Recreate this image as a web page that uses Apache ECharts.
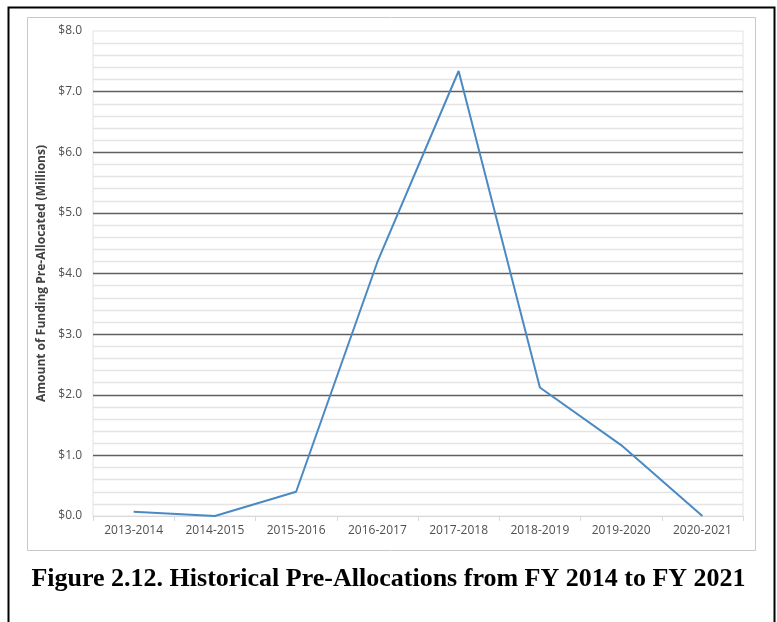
<!DOCTYPE html>
<html lang="en">
<head>
    <meta charset="UTF-8">
    <title>Historical Pre-Allocations</title>
    <script src="https://cdn.jsdelivr.net/npm/echarts@6/dist/echarts.min.js"></script>
    <style>
        body { margin: 0; background: #fff; }
    </style>
</head>
<body>
    <div id="main" style="width: 777px;height:622px;"></div>

    <script type="text/javascript">
        // data
        const years = ['2013-2014', '2014-2015', '2015-2016', '2016-2017', '2017-2018', '2018-2019', '2019-2020', '2020-2021'];
        const preAllocated = [0.07, 0.0, 0.40, 4.19, 7.34, 2.12, 1.17, 0.0];
        const yMin = 0, yMax = 8, yStep = 1;

        var myChart = echarts.init(document.getElementById('main'));

        var option = {
            animation: false,
            backgroundColor: '#fff',
            title: {
                text: 'Figure 2.12. Historical Pre-Allocations from FY 2014 to FY 2021',
                left: 'center',
                top: 561,
                textStyle: {
                    fontFamily: 'Liberation Serif',
                    fontWeight: 'bold',
                    fontSize: 26,
                    color: '#000'
                }
            },
            graphic: [
                // outer frame of the figure
                {
                    type: 'rect',
                    shape: { x: 8.5, y: 7.5, width: 766, height: 640 },
                    style: { fill: 'none', stroke: '#000', lineWidth: 2 },
                    z: -1
                },
                // chart area border
                {
                    type: 'rect',
                    shape: { x: 27.5, y: 17.5, width: 728, height: 533 },
                    style: { fill: 'none', stroke: '#c8c8c8', lineWidth: 1 },
                    z: -1
                }
            ],
            grid: {
                left: 93,
                right: 34,
                top: 31,
                bottom: 106,
                show: true,
                borderColor: '#e2e2e2',
                borderWidth: 1
            },
            xAxis: {
                type: 'category',
                data: years,
                boundaryGap: true,
                axisLine: { lineStyle: { color: '#d9d9d9' } },
                axisTick: { show: true, length: 5, lineStyle: { color: '#d9d9d9' } },
                axisLabel: {
                    color: '#505050',
                    fontFamily: 'Open Sans',
                    fontSize: 12,
                    margin: 9
                }
            },
            yAxis: {
                type: 'value',
                min: yMin,
                max: yMax,
                interval: yStep,
                name: 'Amount of Funding Pre-Allocated (Millions)',
                nameLocation: 'middle',
                nameGap: 41,
                nameTextStyle: {
                    color: '#404040',
                    fontFamily: 'Open Sans',
                    fontWeight: 'bold',
                    fontSize: 12
                },
                axisLine: { show: false },
                axisTick: { show: false },
                axisLabel: {
                    color: '#505050',
                    fontFamily: 'Open Sans',
                    fontSize: 12,
                    margin: 11,
                    formatter: function (v) { return '$' + v.toFixed(1); }
                },
                splitLine: {
                    show: true,
                    showMinLine: false,
                    showMaxLine: false,
                    lineStyle: { color: '#606060', width: 1.3 }
                },
                minorTick: { show: false, splitNumber: 5 },
                minorSplitLine: {
                    show: true,
                    lineStyle: { color: '#e4e4e4', width: 1.3 }
                }
            },
            series: [
                {
                    name: 'Pre-Allocated',
                    type: 'line',
                    data: preAllocated,
                    symbol: 'none',
                    lineStyle: { color: '#4a8ac4', width: 2 }
                }
            ]
        };

        myChart.setOption(option);
    </script>
</body>
</html>
